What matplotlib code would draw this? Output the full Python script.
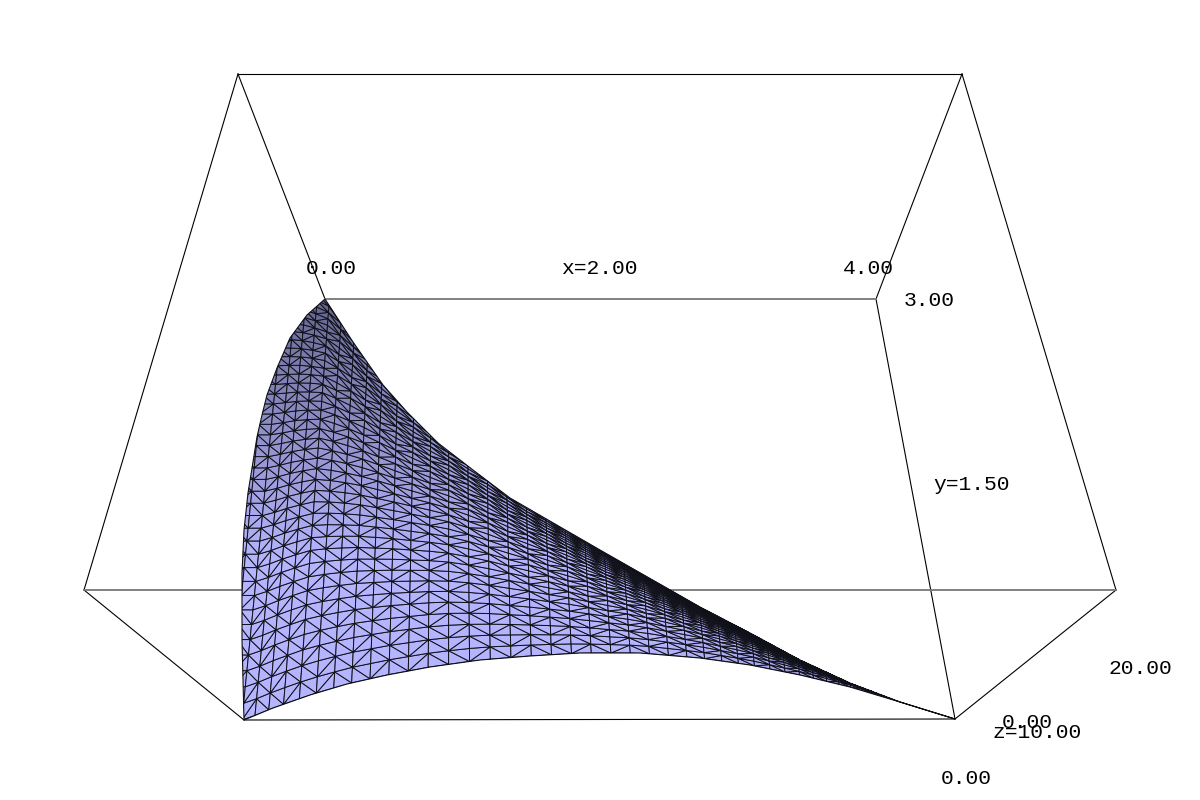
import matplotlib
matplotlib.use("Agg")
import matplotlib.pyplot as plt
import numpy as np
from matplotlib.collections import PolyCollection
from matplotlib.patches import Polygon

# wire box, picture coordinates
back_z0 = [(325, 299), (876, 299)]
front_z0 = [(244, 720), (955, 719)]
back_z20 = [(238, 74), (962, 74)]
front_z20 = [(84, 590), (1116, 590)]

# outline of the surface
left_x = [244, 242, 242, 244, 248, 257, 262, 267, 277, 290, 307, 325]
left_y = [720, 640, 573, 530, 493, 437, 415, 395, 368, 338, 315, 299]
bottom_x = [244, 273, 310, 347, 387, 430, 480, 530, 580, 640, 700, 750, 800, 850, 900, 955]
bottom_y = [720, 708, 695, 684, 675, 667, 660, 656, 653, 653, 658, 665, 675, 687, 702, 719]
edge_x = [325, 353, 383, 407, 438, 473, 510, 600, 700, 750, 800, 850, 900, 955]
edge_y = [299, 342, 385, 412, 443, 470, 498, 550, 607, 633, 660, 683, 702, 719]

# mesh spacing in the picture, in pixels, at some columns
spacing_at = [190, 244, 300, 450, 650, 800, 900, 955]
column_gap = [13, 13, 17, 21, 19, 14, 8, 4]
row_at = [244, 300, 450, 600, 800, 955]
row_gap = [17, 17, 14, 9, 4, 1.5]
# how far past the upper edge the rows would run before it clips them
room_at = [244, 500, 650, 850]
room_factor = [1.4, 1.35, 1.15, 1.05]

labels = ["0.00", "x=2.00", "4.00", "3.00", "y=1.50", "20.00", "0.00", "z=10.00", "0.00"]
label_x = [306, 561, 843, 904, 933, 1108, 1002, 992, 941]
label_y = [268, 268, 268, 300, 484, 668, 722, 733, 778]

# column positions, starting left of the surface because the outline clips the mesh
cols = [190.0]
while cols[-1] < 955:
    cols.append(cols[-1] + np.interp(cols[-1], spacing_at, column_gap))
cols = np.array(cols)
n_rows = 60

# upper limit continues past the tip so the rows on the left have room
top_x = [244] + edge_x
top_y = [edge_y[0] - 1.54 * (edge_x[0] - 244)] + edge_y

gx = np.zeros((n_rows, len(cols)))
gy = np.zeros((n_rows, len(cols)))
for i, x in enumerate(cols):
    low = np.interp(x, bottom_x, bottom_y)
    room = np.interp(x, room_at, room_factor) * max(low - np.interp(x, top_x, top_y), 1)
    step = np.interp(x, row_at, row_gap)
    tilt = np.interp(x, [250, 450, 700], [0.1, 0.0, -0.1])
    for k in range(-2, n_rows - 2):
        d = room * (1 - np.exp(-k * step / room))
        gx[k + 2, i] = x + tilt * d
        gy[k + 2, i] = low - d

tris = []
colors = []
for k in range(n_rows - 1):
    for i in range(len(cols) - 1):
        p00 = (gx[k, i], gy[k, i])
        p10 = (gx[k, i + 1], gy[k, i + 1])
        p01 = (gx[k + 1, i], gy[k + 1, i])
        p11 = (gx[k + 1, i + 1], gy[k + 1, i + 1])
        if (i * 7 + k * 11) % 5 < 2:
            pair = [(p00, p10, p11), (p00, p11, p01)]
        else:
            pair = [(p00, p10, p01), (p10, p11, p01)]
        for tri in pair:
            tris.append(tri)
            cx = np.mean([q[0] for q in tri])
            cy = np.mean([q[1] for q in tri])
            shade = np.interp(cy, [300, 350, 450, 560], [0.55, 0.66, 0.82, 1.0])
            shade = shade - 0.2 * np.clip((cx - 650) / 300, 0, 1)
            colors.append((0.71 * shade, 0.71 * shade, 1.0 * shade))

fig = plt.figure(figsize=(12, 8), dpi=100)
ax = fig.add_axes([0, 0, 1, 1])
ax.set_xlim(0, 1200)
ax.set_ylim(800, 0)
ax.axis("off")

edges = [
    (back_z20[0], back_z20[1]),
    (back_z20[0], front_z20[0]), (back_z20[1], front_z20[1]),
    (back_z20[0], back_z0[0]), (back_z20[1], back_z0[1]),
    (back_z0[1], front_z0[1]),
    (front_z0[0], front_z0[1]), (front_z20[0], front_z0[0]),
    (front_z20[1], front_z0[1]),
]
for a, b in edges:
    ax.plot([a[0], b[0]], [a[1], b[1]], color="black", lw=0.8, zorder=1)
# these two fall between pixel rows in the reference and look grey
for a, b in [(front_z20[0], front_z20[1]), (back_z0[0], back_z0[1])]:
    ax.plot([a[0], b[0]], [a[1], b[1]], color="#777777", lw=1.3, zorder=1)

outline = list(zip(left_x, left_y)) + list(zip(edge_x, edge_y)) + list(zip(bottom_x[::-1], bottom_y[::-1]))
clip = Polygon(outline, closed=True, transform=ax.transData, fc="none", ec="none")
ax.add_patch(clip)
mesh = PolyCollection(tris, facecolors=colors, edgecolors="#101018", linewidths=0.7, zorder=2)
ax.add_collection(mesh)
mesh.set_clip_path(clip)
ax.add_patch(Polygon(outline, closed=True, fc="none", ec="#101018", lw=0.8, zorder=3))

for txt, x, y in zip(labels, label_x, label_y):
    ax.text(x, y, txt, family="Liberation Mono", fontsize=15.3, color="black", ha="left", va="center", zorder=4)

fig.savefig("out.png", dpi=100)
